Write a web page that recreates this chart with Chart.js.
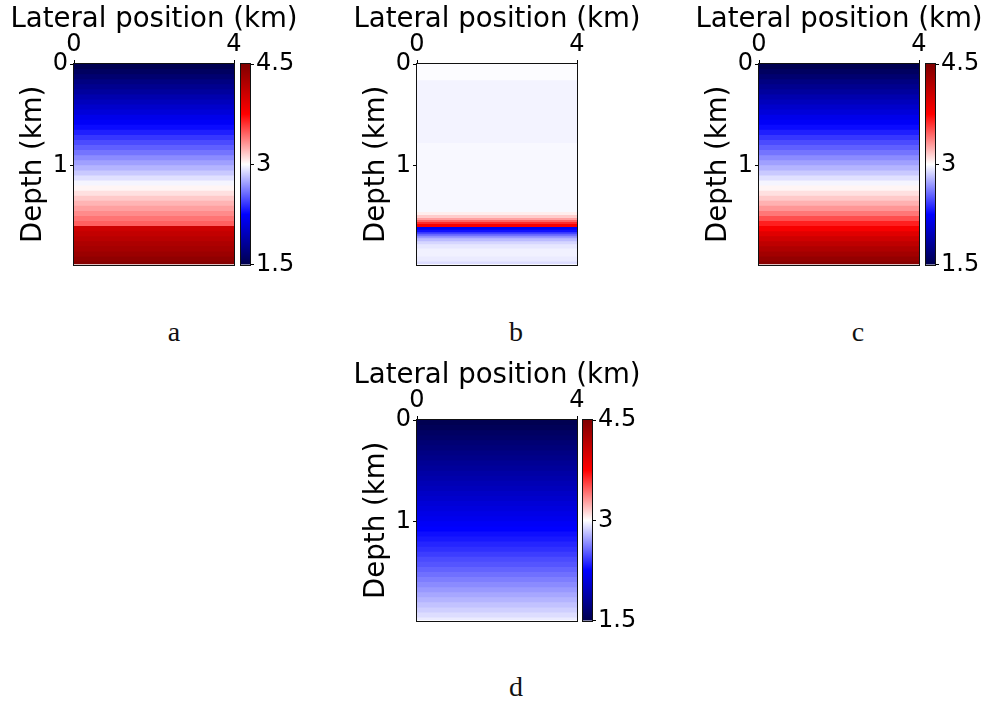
<!DOCTYPE html>
<html>
<head>
<meta charset="utf-8">
<script src="https://cdn.jsdelivr.net/npm/chart.js@4.4.1/dist/chart.umd.min.js"></script>
<style>
  body { margin: 0; background: #fff; }
  #page { position: relative; width: 989px; height: 701px; overflow: hidden; background: #fff; }
  canvas { position: absolute; }
  .cap { position: absolute; width: 60px; margin-left: -30px; text-align: center;
         font-family: 'Liberation Serif', serif; font-size: 28px; line-height: 28px; color: #111; }
</style>
</head>
<body>
<div id="page">
  <canvas id="pa"></canvas><canvas id="ca"></canvas>
  <canvas id="pb"></canvas>
  <canvas id="pc"></canvas><canvas id="cc"></canvas>
  <canvas id="pd"></canvas><canvas id="cd"></canvas>
  <div class="cap" style="left:174px; top:318px">a</div>
  <div class="cap" style="left:516px; top:318px">b</div>
  <div class="cap" style="left:858px; top:318px">c</div>
  <div class="cap" style="left:516px; top:673px">d</div>
</div>
<script>
// colour bar range (velocity, km/s) and tick labels
const vMin = 1.5, vMax = 4.5;
const cbTicks = [1.5, 3, 4.5];
const xTicks = [0, 4];
const yTicks = [0, 1];
const xMax = 4, depthMax = 1.98;

// bottom depth (km) of each horizontal layer, used by panels a, c and d
const layerBottoms = [0.05, 0.10, 0.15, 0.20, 0.25, 0.30, 0.35, 0.40, 0.45, 0.50,
                      0.55, 0.60, 0.65, 0.70, 0.75, 0.80, 0.85, 0.90, 0.95, 1.00,
                      1.05, 1.10, 1.15, 1.20, 1.25, 1.30, 1.35, 1.40, 1.45, 1.50,
                      1.55, 1.60, 1.65, 1.70, 1.75, 1.80, 1.85, 1.90, 1.95, 2.00];

// a: true model, sharp jump at 1.6 km
const velA = [1.52, 1.58, 1.65, 1.72, 1.78, 1.84, 1.91, 1.97, 2.03, 2.09,
              2.16, 2.22, 2.28, 2.34, 2.41, 2.47, 2.53, 2.59, 2.66, 2.72,
              2.78, 2.84, 2.91, 2.97, 3.03, 3.09, 3.16, 3.22, 3.28, 3.34,
              3.41, 3.47, 4.05, 4.11, 4.17, 4.23, 4.28, 4.34, 4.40, 4.46];
// c: smooth version of a
const velC = [1.52, 1.58, 1.65, 1.72, 1.78, 1.84, 1.91, 1.97, 2.03, 2.09,
              2.16, 2.22, 2.28, 2.34, 2.41, 2.47, 2.53, 2.59, 2.66, 2.72,
              2.78, 2.84, 2.91, 2.97, 3.03, 3.09, 3.16, 3.23, 3.31, 3.40,
              3.52, 3.66, 3.80, 3.93, 4.04, 4.13, 4.22, 4.30, 4.38, 4.45];
// d: starting model
const velD = [1.52, 1.55, 1.59, 1.62, 1.66, 1.69, 1.73, 1.76, 1.80, 1.83,
              1.87, 1.90, 1.94, 1.97, 2.01, 2.04, 2.08, 2.11, 2.15, 2.18,
              2.22, 2.25, 2.29, 2.32, 2.36, 2.39, 2.43, 2.47, 2.50, 2.54,
              2.58, 2.62, 2.66, 2.70, 2.74, 2.78, 2.82, 2.86, 2.90, 2.94];

// b: update, finer layers around the reflector
const layerBottomsB = [0.16, 0.78, 1.46, 1.49, 1.52, 1.54, 1.56, 1.58, 1.61, 1.635,
                       1.66, 1.68, 1.70, 1.72, 1.75, 1.78, 1.82, 1.90, 1.95, 2.00];
const velB = [2.99, 2.965, 2.98, 3.05, 3.15, 3.28, 3.45, 3.62, 3.78, 2.20,
              2.30, 2.45, 2.58, 2.70, 2.80, 2.88, 2.93, 2.96, 2.94, 2.90];

Chart.defaults.font.family = "'DejaVu Sans', sans-serif";
Chart.defaults.color = '#000';

// title drawn by the title plugin; small line box so the tick labels keep their room
const titleSize = 27.6, titleLine = 10, titlePadTop = 15;
const titleBoxH = titleLine + titlePadTop;

// matplotlib "seismic" colour map
const seismicStops = [[0, 0, 0.3], [0, 0, 1], [1, 1, 1], [1, 0, 0], [0.5, 0, 0]];
function seismic(v) {
    let t = (v - vMin) / (vMax - vMin);
    t = Math.min(1, Math.max(0, t));
    const s = t * 4, i = Math.min(3, Math.floor(s)), f = s - i;
    const c = seismicStops[i].map((a, k) => Math.round(255 * (a + (seismicStops[i + 1][k] - a) * f)));
    return `rgb(${c[0]},${c[1]},${c[2]})`;
}

// thin dark frame round the plot area
const frame = {
    id: 'frame',
    afterDatasetsDraw(chart) {
        const { ctx, chartArea: a } = chart;
        ctx.save();
        ctx.strokeStyle = '#111';
        ctx.lineWidth = 1;
        ctx.strokeRect(Math.round(a.left) - 0.5, Math.round(a.top) - 0.5,
                       Math.round(a.width) + 1, Math.round(a.height) + 1);
        ctx.restore();
    }
};

function place(id, left, top, w, h) {
    const c = document.getElementById(id);
    c.width = w; c.height = h;
    c.style.left = left + 'px';
    c.style.top = top + 'px';
    return c;
}

function drawPanel(id, plotLeft, plotTop, bottoms, vels) {
    const canvas = place(id, plotLeft - 74, plotTop - 64, 74 + 160 + 74, 64 + 201 + 16);
    // each layer fills from its bottom up to depth 0; the shallower layer is drawn on top
    const datasets = bottoms.map((b, i) => ({
        data: [{ x: 0, y: b }, { x: xMax, y: b }],
        showLine: true,
        borderWidth: 0,
        borderColor: 'rgba(0,0,0,0)',
        pointRadius: 0,
        backgroundColor: seismic(vels[i]),
        fill: { value: 0 }
    }));
    new Chart(canvas, {
        type: 'scatter',
        data: { datasets },
        options: {
            responsive: false,
            animation: false,
            events: [],
            layout: { padding: { left: 0, top: 0, right: 0, bottom: 16 } },
            plugins: {
                legend: { display: false },
                tooltip: { enabled: false },
                title: {
                    display: true, text: 'Lateral position (km)', color: '#000',
                    font: { size: titleSize, weight: 'normal', lineHeight: titleLine + 'px' },
                    padding: { top: titlePadTop, bottom: 0 }
                }
            },
            scales: {
                x: {
                    type: 'linear', position: 'top', min: 0, max: xMax,
                    afterFit: s => { s.height = 64 - titleBoxH; },
                    afterBuildTicks: s => { s.ticks = xTicks.map(v => ({ value: v })); },
                    grid: { drawOnChartArea: false, drawTicks: true, tickLength: 4, color: '#000' },
                    border: { display: false },
                    ticks: { padding: 1, font: { size: 24 }, maxRotation: 0 }
                },
                y: {
                    type: 'linear', reverse: true, min: 0, max: depthMax,
                    afterFit: s => { s.width = 74; },
                    afterBuildTicks: s => { s.ticks = yTicks.map(v => ({ value: v })); },
                    grid: { drawOnChartArea: false, drawTicks: true, tickLength: 4, color: '#000' },
                    border: { display: false },
                    ticks: { padding: 2, font: { size: 24 } },
                    title: { display: true, text: 'Depth (km)', font: { size: titleSize },
                             padding: { top: 17, bottom: 0 } }
                },
                // empty right-hand axis keeps the title centred over the plot
                yPad: {
                    type: 'linear', position: 'right', display: true,
                    afterFit: s => { s.width = 74; },
                    grid: { display: false }, border: { display: false },
                    ticks: { display: false }
                }
            }
        },
        plugins: [frame]
    });
}

function drawColorbar(id, barLeft, barTop, barWidth) {
    const canvas = place(id, barLeft - 4, barTop - 64, 4 + barWidth + 52, 64 + 201 + 16);
    new Chart(canvas, {
        type: 'bar',
        data: {
            labels: ['v'],
            datasets: [{
                data: [[vMin, vMax]],
                barPercentage: 1,
                categoryPercentage: 1,
                backgroundColor: ctx => {
                    const chart = ctx.chart;
                    if (!chart.chartArea) return '#fff';
                    const y = chart.scales.y;
                    const g = chart.ctx.createLinearGradient(0, y.getPixelForValue(vMin), 0, y.getPixelForValue(vMax));
                    for (let k = 0; k <= 4; k++) g.addColorStop(k / 4, seismic(vMin + k * (vMax - vMin) / 4));
                    return g;
                }
            }]
        },
        options: {
            responsive: false,
            animation: false,
            events: [],
            layout: { padding: { left: 4, top: 64, right: 0, bottom: 16 } },
            plugins: { legend: { display: false }, tooltip: { enabled: false } },
            scales: {
                x: { display: false },
                y: {
                    position: 'right', min: vMin, max: vMax,
                    afterFit: s => { s.width = 52; },
                    afterBuildTicks: s => { s.ticks = cbTicks.map(v => ({ value: v })); },
                    grid: { drawOnChartArea: false, drawTicks: true, tickLength: 4, color: '#000' },
                    border: { display: false },
                    ticks: { padding: 2, font: { size: 24 } }
                }
            }
        },
        plugins: [frame]
    });
}

drawPanel('pa', 74, 64, layerBottoms, velA);
drawColorbar('ca', 241, 64, 9);
drawPanel('pb', 417, 64, layerBottomsB, velB);
drawPanel('pc', 759, 64, layerBottoms, velC);
drawColorbar('cc', 926, 64, 9);
drawPanel('pd', 417, 420, layerBottoms, velD);
drawColorbar('cd', 583, 420, 9);
</script>
</body>
</html>
